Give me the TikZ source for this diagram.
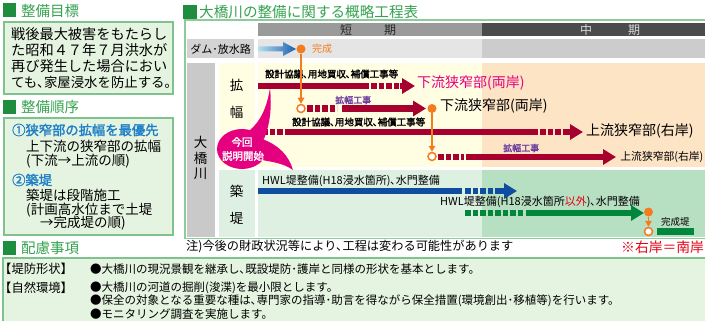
\documentclass[tikz,border=0pt]{standalone}
\usepackage{fontspec}
\setmainfont{Noto Sans CJK JP}[AutoFakeBold=2]
\usetikzlibrary{arrows.meta}
\definecolor{hgreen}{HTML}{35A24F}
\definecolor{sqgreen}{HTML}{1E8E3E}
\definecolor{boxfill}{HTML}{E5F4E0}
\definecolor{boxline}{HTML}{7FC28E}
\definecolor{framec}{HTML}{8ECB9C}
\definecolor{hdrA}{HTML}{9A9A9A}
\definecolor{hdrB}{HTML}{4B4B4B}
\definecolor{damA}{HTML}{E5E5E5}
\definecolor{damB}{HTML}{CCCCCC}
\definecolor{damlab}{HTML}{D3D3D3}
\definecolor{colgray}{HTML}{C9C9C9}
\definecolor{yelA}{HTML}{FFFDE2}
\definecolor{yelB}{HTML}{FDE4C5}
\definecolor{grnA}{HTML}{DDF0E2}
\definecolor{grnB}{HTML}{B7E0C3}
\definecolor{crim}{HTML}{A6002F}
\definecolor{pinkc}{HTML}{E4007F}
\definecolor{orng}{HTML}{F47B20}
\definecolor{purp}{HTML}{6A3B9E}
\definecolor{barblue}{HTML}{0E4DA0}
\definecolor{bargreen}{HTML}{00873C}
\definecolor{txtblue}{HTML}{1F7FC8}
\definecolor{redc}{HTML}{E60012}
\definecolor{lightcy}{HTML}{B3E0F2}
\definecolor{darkbl}{HTML}{1C5FAD}
\tikzset{
  jt/.style={inner sep=0pt, anchor=west},
  jc/.style={inner sep=0pt},
  fs/.style={font=\fontsize{#1}{#1}\selectfont},
  fsb/.style={font=\fontsize{#1}{#1}\selectfont\bfseries},
  bar/.style={line width=6.5pt, draw=crim},
  sq/.style={dash pattern=on 5.5pt off 2pt},
  head/.style={-{Triangle[length=13pt,width=15pt]}},
  dotf/.style={circle, fill=orng, minimum size=9pt, inner sep=0pt},
  doto/.style={circle, draw=orng, fill=white, line width=1.5pt, minimum size=8pt, inner sep=0pt},
  oline/.style={orng, line width=1.5pt, -{Triangle[length=6pt,width=6.5pt]}},
  hsq/.style={fill=sqgreen},
}
\begin{document}
\begin{tikzpicture}[x=1pt,y=-1pt]
\useasboundingbox (0,0) rectangle (705,321);
\fill[white] (0,0) rectangle (705,321);

% ---------- left column ----------
\fill[hsq] (3,3) rectangle (16,17);
\node[jt, fs=14.5, text=hgreen] (h1) at (21,10.5) {整備目標};
\draw[boxline, fill=boxfill, line width=1.2pt] (4,22) rectangle (173,94);
\node[jt, fs=14.2] (g1) at (11,34) {戦後最大被害をもたらし};
\node[jt, fs=14.2] (g2) at (11,50) {た昭和４７年７月洪水が};
\node[jt, fs=14.2] (g3) at (11,66) {再び発生した場合におい};
\node[jt, fs=13.4] (g4) at (11,82) {ても､家屋浸水を防止する｡};

\fill[hsq] (3,100) rectangle (16,114);
\node[jt, fs=14.5, text=hgreen] (h2) at (21,107) {整備順序};
\draw[boxline, fill=boxfill, line width=1.2pt] (4,118) rectangle (173,235);
\node[jt, fsb=13.3, text=txtblue] (o1) at (12,130) {①狭窄部の拡幅を最優先};
\node[jt, fs=13.5] (o2) at (26,146) {上下流の狭窄部の拡幅};
\node[jt, fs=13.5] (o3) at (26,161) {(下流→上流の順)};
\node[jt, fsb=13.3, text=txtblue] (o4) at (12,180) {②築堤};
\node[jt, fs=13.5] (o5) at (26,195) {築堤は段階施工};
\node[jt, fs=13.5] (o6) at (26,210) {(計画高水位まで土堤};
\node[jt, fs=13.5] (o7) at (40,223) {→完成堤の順)};

\fill[hsq] (3,241) rectangle (16,255);
\node[jt, fs=14.5, text=hgreen] (h3) at (21,248) {配慮事項};

% ---------- chart ----------
\fill[hsq] (183,5) rectangle (197,19);
\node[jt, fs=14.6, text=hgreen] (h4) at (199,12) {大橋川の整備に関する概略工程表};

\fill[hdrA] (258,23) rectangle (482,36);
\fill[hdrB] (482,23) rectangle (705,36);
\node[jc, fs=12, text=black!85] (s1) at (346,30) {短};
\node[jc, fs=12, text=black!85] (s2) at (390,30) {期};
\node[jc, fs=12, text=black!15] (m1) at (586,30) {中};
\node[jc, fs=12, text=black!15] (m2) at (634,30) {期};

\fill[damlab] (187,39) rectangle (254,58);
\fill[damA] (258,39) rectangle (482,58);
\fill[damB] (482,39) rectangle (705,58);
\node[jc, fs=11] (dam) at (220.5,49) {ダム･放水路};

\fill[colgray] (187,63) rectangle (215,237);
\fill[yelA] (219,63) rectangle (255,167);
\fill[yelA] (258,63) rectangle (482,167);
\fill[yelB] (482,63) rectangle (705,167);
\fill[grnA] (219,170) rectangle (255,237);
\fill[grnA] (258,170) rectangle (482,237);
\fill[grnB] (482,170) rectangle (705,237);
\draw[framec, line width=1.2pt] (185,20) rectangle (708,238.5);

\node[jc, fs=13.5] (v1) at (200.5,142) {大};
\node[jc, fs=13.5] (v2) at (200.5,158) {橋};
\node[jc, fs=13.5] (v3) at (200.5,174) {川};
\node[jc, fs=13.5] (k1) at (236.5,85) {拡};
\node[jc, fs=13.5] (k2) at (236.5,112) {幅};
\node[jc, fs=13.5] (t1) at (236.5,191) {築};
\node[jc, fs=13.5] (t2) at (236.5,218) {堤};

% dam arrow
\coordinate (damS) at (258,49);
\shade[left color=lightcy, right color=darkbl]
  (258,46.5) -- (283,46.5) -- (283,42) -- (296,49) -- (283,56) -- (283,51.5) -- (258,51.5) -- cycle;
\node[dotf] (d1) at (301,49) {};
\node[jt, fs=10, text=orng] (kansei) at (312,49) {完成};

% row 1
\coordinate (r1a) at (258,86);
\coordinate (r1b) at (369,86);
\coordinate (r1c) at (371,86);
\coordinate (r1d) at (399.5,86);
\coordinate (r1e) at (415,86);
\draw[bar] (r1a) -- (r1b);
\draw[bar, sq] (r1c) -- (r1d);
\draw[bar, head] (r1d) -- (r1e);
\node[jt, fsb=9.5] (l1) at (265,74) {設計協議､用地買収､補償工事等};
\node[jt, fs=14, text=pinkc] (p1) at (417,83) {下流狭窄部(両岸)};

% row 2
\node[doto] (c1) at (301,108.5) {};
\coordinate (r2a) at (307,108.5);
\coordinate (r2b) at (337,108.5);
\coordinate (r2c) at (342,108.5);
\coordinate (r2d) at (426,108.5);
\draw[bar, sq] (r2a) -- (r2b);
\draw[bar, head] (r2c) -- (r2d);
\node[jt, fsb=9, text=purp] (l2) at (335,100) {拡幅工事};
\node[dotf] (d2) at (432,108.5) {};
\node[jt, fs=14] (p2) at (440,106) {下流狭窄部(両岸)};
\draw[oline] (d1) -- (c1);

% row 3
\coordinate (r3a) at (262,132);
\coordinate (r3b) at (283,132);
\coordinate (r3c) at (285,132);
\coordinate (r3d) at (538,132);
\coordinate (r3e) at (540,132);
\coordinate (r3f) at (565.5,132);
\coordinate (r3g) at (583,132);
\draw[bar, sq] (r3a) -- (r3b);
\draw[bar] (r3c) -- (r3d);
\draw[bar, sq] (r3e) -- (r3f);
\draw[bar, head] (r3f) -- (r3g);
\node[jt, fsb=9.5] (l3) at (292,122) {設計協議､用地買収､補償工事等};
\node[jt, fs=14] (p3) at (586,131) {上流狭窄部(右岸)};

% row 4
\node[doto] (c2) at (432,156.5) {};
\draw[oline] (d2) -- (c2);
\coordinate (r4a) at (438,157);
\coordinate (r4b) at (464,157);
\coordinate (r4c) at (466,157);
\coordinate (r4d) at (616,157);
\draw[bar, sq] (r4a) -- (r4b);
\draw[bar, head] (r4c) -- (r4d);
\node[jt, fsb=9, text=purp] (l4) at (503,148) {拡幅工事};
\node[inner sep=0pt, anchor=east, fs=10.8] (p4) at (703.5,157) {上流狭窄部(右岸)};

% blue
\coordinate (b1) at (258,191);
\coordinate (b2) at (462,191);
\coordinate (b3) at (465,191);
\coordinate (b4) at (497.5,191);
\coordinate (b5) at (517,191);
\draw[bar, draw=barblue, line width=6pt] (b1) -- (b2);
\draw[bar, draw=barblue, line width=6pt, sq] (b3) -- (b4);
\draw[bar, draw=barblue, line width=6pt, head] (b4) -- (b5);
\node[jt, fs=11] (l5) at (262,181) {HWL堤整備(H18浸水箇所)､水門整備};

% green
\coordinate (e1) at (465,213);
\coordinate (e2) at (523,213);
\coordinate (e3) at (526,213);
\coordinate (e4) at (644,213);
\draw[bar, draw=bargreen, line width=6pt, sq] (e1) -- (e2);
\draw[bar, draw=bargreen, line width=6pt, head] (e3) -- (e4);
\node[jt, fs=11] (l6) at (440,202) {HWL堤整備(H18浸水箇所\textcolor{redc}{以外})､水門整備};
\node[dotf] (d3) at (648.5,212) {};
\node[doto] (c3) at (648.5,231.5) {};
\draw[oline] (d3) -- (c3);
\node[jt, fs=9.5] (kt) at (661,222) {完成堤};
\fill[bargreen] (657,228) rectangle (694,235);

% callout
\fill[pinkc] (242,149) ellipse [x radius=25pt, y radius=20pt];
\fill[pinkc] (249,131) .. controls (261,121) and (267,107) .. (270,88)
  .. controls (272,108) and (270,124) .. (264,139) -- cycle;
\fill[pinkc] (262,139) .. controls (279,145) and (289,156) .. (293,170)
  .. controls (283,163) and (272,162) .. (262,160) -- cycle;
\node[jc, fsb=10.5, text=white] (co1) at (242,142) {今回};
\node[jc, fsb=10.5, text=white] (co2) at (243,156) {説明開始};

% notes
\node[jt, fs=12.2] (note) at (186,247) {注)今後の財政状況等により､工程は変わる可能性があります};
\node[jt, fs=13.8, text=redc] (south) at (621,247) {※右岸＝南岸};

% bottom box
\draw[boxline, fill=boxfill, line width=1.2pt] (3,258) rectangle (708,330);
\node[jt, fs=12.3] (b1l) at (-1,269) {【堤防形状】};
\node[jt, fs=11.5] (b1t) at (90,269) {●大橋川の現況景観を継承し､既設堤防･護岸と同様の形状を基本とします。};
\node[jt, fs=12.3] (b2l) at (-1,288) {【自然環境】};
\node[jt, fs=11.5] (b2t) at (90,288) {●大橋川の河道の掘削(浚渫)を最小限とします。};
\node[jt, fs=11.5] (b3t) at (90,301) {●保全の対象となる重要な種は､専門家の指導･助言を得ながら保全措置(環境創出･移植等)を行います。};
\node[jt, fs=11.5] (b4t) at (90,314) {●モニタリング調査を実施します。};
\end{tikzpicture}
\end{document}
